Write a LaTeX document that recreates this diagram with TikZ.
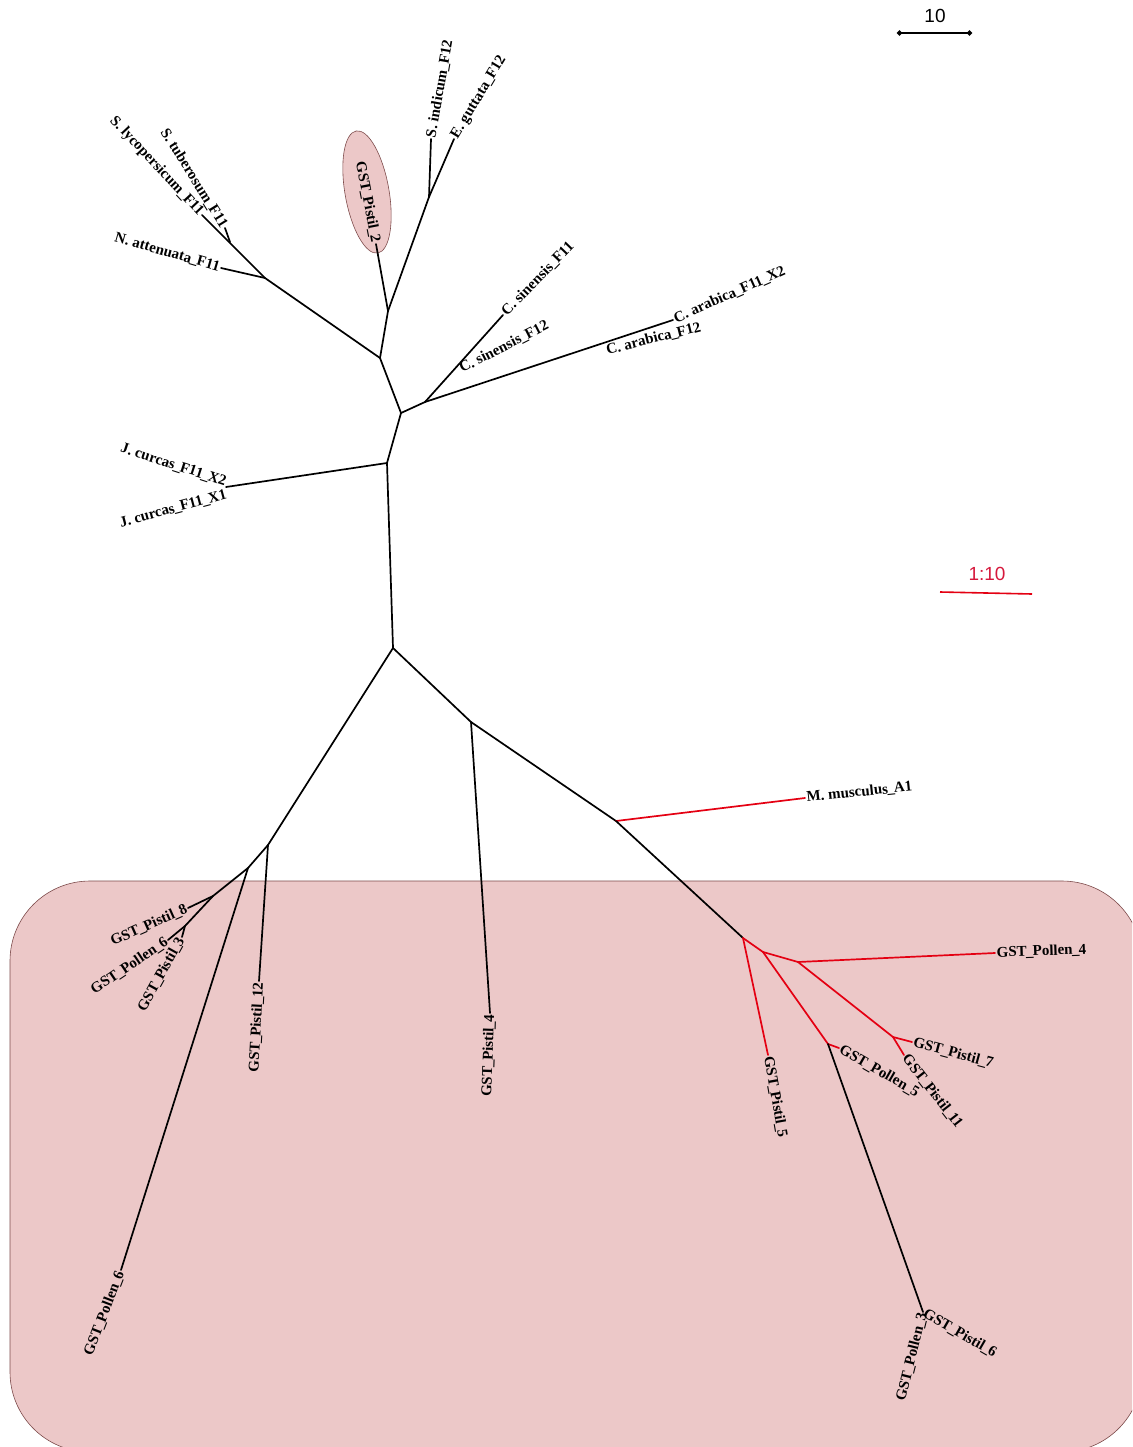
\documentclass[tikz,border=0pt]{standalone}
\usepackage{fontspec}
\newfontfamily\barfont{Liberation Sans}
\newfontfamily\taxfont{Liberation Serif}
\usetikzlibrary{arrows.meta}
\definecolor{boxpink}{RGB}{236,200,200}
\definecolor{boxedge}{RGB}{125,75,75}
\definecolor{clred}{RGB}{228,0,18}
\definecolor{barred}{RGB}{214,24,60}
% a slightly tighter underscore for the taxon names
\newcommand{\us}{\kern-0.05em\_\kern-0.05em}
\begin{document}
\begin{tikzpicture}[x=1pt,y=-1pt,
  edge/.style={line width=1.7pt, line cap=round, line join=round},
  rededge/.style={edge, draw=clred},
  taxon/.style={font=\taxfont\bfseries\fontsize{15}{16}\selectfont, inner sep=1.5pt},
  hilite/.style={fill=boxpink, draw=boxedge, line width=0.6pt}]
\useasboundingbox (0,0) rectangle (1132,1447);
\clip (0,0) rectangle (1132,1447);

% shaded group of GST sequences
\draw[hilite, rounded corners=80pt] (10,881) rectangle (1142,1452);
\draw[hilite, rotate around={10:(367,192)}] (367,192) ellipse [x radius=22, y radius=62];

% ---- upper part of the tree ----
\coordinate (R)  at (393,648);
\coordinate (J)  at (387,463);
\coordinate (B)  at (401,413);
\coordinate (A)  at (380,358);
\coordinate (NS) at (265,278);
\coordinate (ST) at (230,242);
\coordinate (P2) at (388,311);
\coordinate (SI) at (429,197);
\coordinate (CC) at (425,402);

\coordinate (lNatt)  at (221,268);
\coordinate (lSlyc)  at (202,215);
\coordinate (lStub)  at (225,228);
\coordinate (lP2)    at (376,244);
\coordinate (lSind)  at (431,139);
\coordinate (lEgut)  at (454,139);
\coordinate (lCsin1) at (503,315);
\coordinate (lCsin2) at (459,370);
\coordinate (lCara1) at (673,320);
\coordinate (lCara2) at (605,351);
\coordinate (lJc)    at (226,487);
\coordinate (lJcTop) at (225,490);

\draw[edge] (lSlyc) -- (NS);
\draw[edge] (ST) -- (lStub);
\draw[edge] (lNatt) -- (NS);
\draw[edge] (NS) -- (A);
\draw[edge] (A) -- (P2);
\draw[edge] (P2) -- (lP2);
\draw[edge] (P2) -- (SI);
\draw[edge] (SI) -- (lSind);
\draw[edge] (SI) -- (lEgut);
\draw[edge] (A) -- (B);
\draw[edge] (B) -- (CC);
\draw[edge] (CC) -- (lCsin1);
\draw[edge] (CC) -- (lCara1);
\draw[edge] (B) -- (J);
\draw[edge] (J) -- (lJc);
\draw[edge] (J) -- (R);

\node[taxon, rotate=80, anchor=west]  (tSind)  at (lSind)  {S. indicum\us F12};
\node[taxon, rotate=59, anchor=west]  (tEgut)  at (lEgut)  {E. guttata\us F12};
\node[taxon, rotate=-58, anchor=east] (tStub)  at (lStub)  {S. tuberosum\us F11};
\node[taxon, rotate=-47, anchor=east] (tSlyc)  at (lSlyc)  {S. lycopersicum\us F11};
\node[taxon, rotate=-16, anchor=east] (tNatt)  at (lNatt)  {N. attenuata\us F11};
\node[taxon, rotate=-79, anchor=east] (tP2)    at (lP2)    {GST\us Pistil\us 2};
\node[taxon, rotate=46, anchor=west]  (tCsin1) at (lCsin1) {C. sinensis\us F11};
\node[taxon, rotate=27, anchor=west]  (tCsin2) at (lCsin2) {C. sinensis\us F12};
\node[taxon, rotate=24, anchor=west]  (tCara1) at (lCara1) {C. arabica\us F11\us X2};
\node[taxon, rotate=14, anchor=west]  (tCara2) at (lCara2) {C. arabica\us F12};
\node[taxon, rotate=-18, anchor=south east] (tJc2) at (lJcTop) {J. curcas\us F11\us X2};
\node[taxon, rotate=15, anchor=north east]  (tJc1) at (lJc) {J. curcas\us F11\us X1};

% ---- lower part of the tree ----
\coordinate (L1) at (268,845);
\coordinate (L2) at (248,868);
\coordinate (L3) at (213,896);
\coordinate (L4) at (185,926);
\coordinate (M1) at (471,722);
\coordinate (M2) at (616,821);
\coordinate (M3) at (743,938);
\coordinate (M4) at (763,952);
\coordinate (M5) at (798,962);
\coordinate (M6) at (828,1044);
\coordinate (M7) at (893,1037);
\coordinate (M8) at (923,1312);

\coordinate (lP12)  at (259,981);
\coordinate (lPo6a) at (121,1270);
\coordinate (lP8)   at (188,908);
\coordinate (lPo6b) at (168,940);
\coordinate (lP3)   at (182,937);
\coordinate (lP4)   at (490,1013);
\coordinate (lMm)   at (805,798);
\coordinate (lP5)   at (768,1055);
\coordinate (lPo4)  at (995,953);
\coordinate (lP7)   at (912,1042);
\coordinate (lP11)  at (904,1055);
\coordinate (lPo5)  at (839,1048);

\draw[edge] (R) -- (L1);
\draw[edge] (L1) -- (lP12);
\draw[edge] (L1) -- (L2);
\draw[edge] (L2) -- (lPo6a);
\draw[edge] (L2) -- (L3);
\draw[edge] (L3) -- (lP8);
\draw[edge] (L3) -- (L4);
\draw[edge] (L4) -- (lPo6b);
\draw[edge] (L4) -- (lP3);
\draw[edge] (R) -- (M1);
\draw[edge] (M1) -- (lP4);
\draw[edge] (M1) -- (M2);
\draw[rededge] (M2) -- (lMm);
\draw[edge] (M2) -- (M3);
\draw[rededge] (M3) -- (lP5);
\draw[rededge] (M3) -- (M4);
\draw[rededge] (M4) -- (M5);
\draw[rededge] (M5) -- (lPo4);
\draw[rededge] (M5) -- (M7);
\draw[rededge] (M7) -- (lP7);
\draw[rededge] (M7) -- (lP11);
\draw[rededge] (M4) -- (M6);
\draw[rededge] (M6) -- (lPo5);
\draw[edge] (M6) -- (M8);

\node[taxon, rotate=87, anchor=east]  (tP12)  at (lP12)  {GST\us Pistil\us 12};
\node[taxon, rotate=69, anchor=east]  (tPo6a) at (lPo6a) {GST\us Pollen\us 6};
\node[taxon, rotate=24, anchor=east]  (tP8)   at (lP8)   {GST\us Pistil\us 8};
\node[taxon, rotate=34, anchor=east]  (tPo6b) at (lPo6b) {GST\us Pollen\us 6};
\node[taxon, rotate=61, anchor=east]  (tP3)   at (lP3)   {GST\us Pistil\us 3};
\node[taxon, rotate=88, anchor=east]  (tP4)   at (lP4)   {GST\us Pistil\us 4};
\node[taxon, rotate=6, anchor=west]   (tMm)   at (lMm)   {M. musculus\us A1};
\node[taxon, rotate=-80, anchor=west] (tP5)   at (lP5)   {GST\us Pistil\us 5};
\node[taxon, rotate=2, anchor=west]   (tPo4)  at (lPo4)  {GST\us Pollen\us 4};
\node[taxon, rotate=-15, anchor=west] (tP7)   at (lP7)   {GST\us Pistil\us 7};
\node[taxon, rotate=-52, anchor=west] (tP11)  at (lP11)  {GST\us Pistil\us 11};
\node[taxon, rotate=-30, anchor=west] (tPo5)  at (lPo5)  {GST\us Pollen\us 5};
\node[taxon, rotate=-30, anchor=west] (tP6)   at (M8)    {GST\us Pistil\us 6};
\node[taxon, rotate=76, anchor=east]  (tPo3)  at (M8)    {GST\us Pollen\us 3};

% ---- scale bars ----
\coordinate (sbA) at (897,33);
\coordinate (sbB) at (972,33);
\node[font=\barfont\fontsize{19}{19}\selectfont] (sbT) at (935,16) {10};
\draw[line width=1.6pt, {Circle[length=5pt]}-{Circle[length=5pt]}] (sbA) -- (sbB);

\coordinate (rbA) at (940,592);
\coordinate (rbB) at (1032,594);
\node[font=\barfont\fontsize{19}{19}\selectfont, text=barred] (rbT) at (987,574) {1:10};
\draw[line width=1.6pt, draw=clred] (rbA) -- (rbB);
\end{tikzpicture}
\end{document}
